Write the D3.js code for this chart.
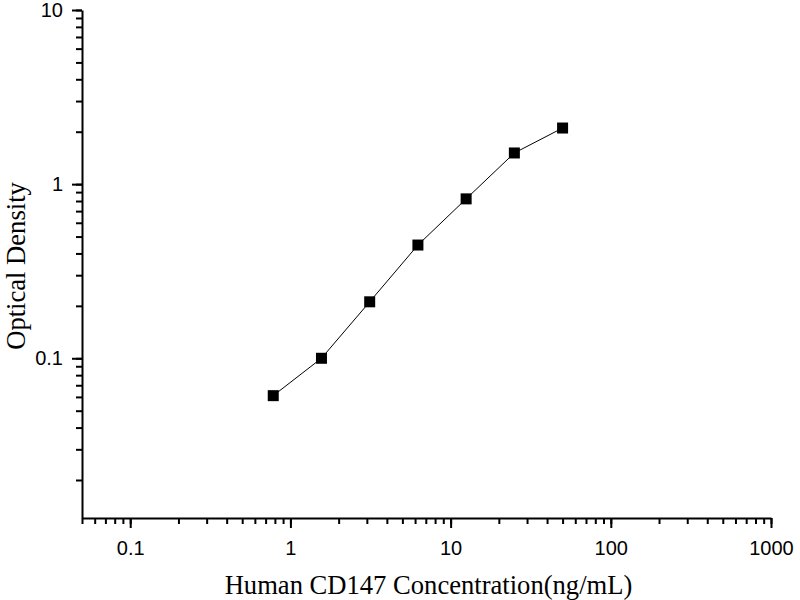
<!DOCTYPE html>
<html>
<head>
<meta charset="utf-8">
<script src="https://cdn.jsdelivr.net/npm/d3@7"></script>
<style>
  body { margin: 0; background: #fff; }
  svg { display: block; }
</style>
</head>
<body>
<svg id="chart" width="800" height="600"></svg>
<script>
// standard curve readings
const concentrations = [0.78125, 1.5625, 3.125, 6.25, 12.5, 25, 50];
const densities = [0.061, 0.100, 0.211, 0.447, 0.823, 1.51, 2.10];
const xMajorTicks = [0.1, 1, 10, 100, 1000];
const yMajorTicks = [0.1, 1, 10];

const svg = d3.select("#chart");
const margin = { top: 10, right: 29, bottom: 82, left: 82 };
const width = +svg.attr("width");
const height = +svg.attr("height");

const x = d3.scaleLog()
    .domain([0.05, 1000])
    .range([margin.left, width - margin.right]);

const y = d3.scaleLog()
    .domain([0.0121, 10])
    .range([height - margin.bottom, margin.top]);

const fmt = d => d >= 1 ? d3.format("d")(d) : String(d);

// minor ticks
svg.append("g")
    .attr("transform", `translate(0,${height - margin.bottom})`)
    .call(d3.axisBottom(x).tickValues(x.ticks()).tickSize(6).tickFormat(""))
    .call(g => g.select(".domain").remove());

svg.append("g")
    .attr("transform", `translate(${margin.left},0)`)
    .call(d3.axisLeft(y).tickValues(y.ticks()).tickSize(6).tickFormat(""))
    .call(g => g.select(".domain").remove());

// major ticks + labels
const xAxis = svg.append("g")
    .attr("transform", `translate(0,${height - margin.bottom})`)
    .call(d3.axisBottom(x).tickValues(xMajorTicks).tickSize(10).tickSizeOuter(0).tickPadding(9).tickFormat(fmt));

const yAxis = svg.append("g")
    .attr("transform", `translate(${margin.left},0)`)
    .call(d3.axisLeft(y).tickValues(yMajorTicks).tickSize(10).tickSizeOuter(0).tickPadding(9).tickFormat(fmt));

svg.selectAll(".tick line, .domain")
    .attr("stroke", "#000")
    .attr("stroke-width", 2);

svg.selectAll(".tick text")
    .attr("font-family", "Liberation Sans, Arial, sans-serif")
    .attr("font-size", 20)
    .attr("fill", "#000");

xAxis.selectAll(".tick text").attr("dy", "0.9em");

// curve
const points = concentrations.map((c, i) => ({ c, od: densities[i] }));

const line = d3.line()
    .x(d => x(d.c))
    .y(d => y(d.od));

svg.append("path")
    .datum(points)
    .attr("d", line)
    .attr("fill", "none")
    .attr("stroke", "#000")
    .attr("stroke-width", 1);

const size = 11;
svg.append("g")
    .selectAll("rect")
    .data(points)
    .join("rect")
    .attr("x", d => x(d.c) - size / 2)
    .attr("y", d => y(d.od) - size / 2)
    .attr("width", size)
    .attr("height", size)
    .attr("fill", "#000");

// axis titles
svg.append("text")
    .attr("x", (x(0.05) + x(1000)) / 2 + 2)
    .attr("y", 594)
    .attr("text-anchor", "middle")
    .attr("font-family", "Liberation Serif, Times New Roman, serif")
    .attr("font-size", 26.6)
    .text("Human CD147 Concentration(ng/mL)");

svg.append("text")
    .attr("transform", `translate(25,266) rotate(-90)`)
    .attr("text-anchor", "middle")
    .attr("font-family", "Liberation Serif, Times New Roman, serif")
    .attr("font-size", 26.6)
    .text("Optical Density");
</script>
</body>
</html>
